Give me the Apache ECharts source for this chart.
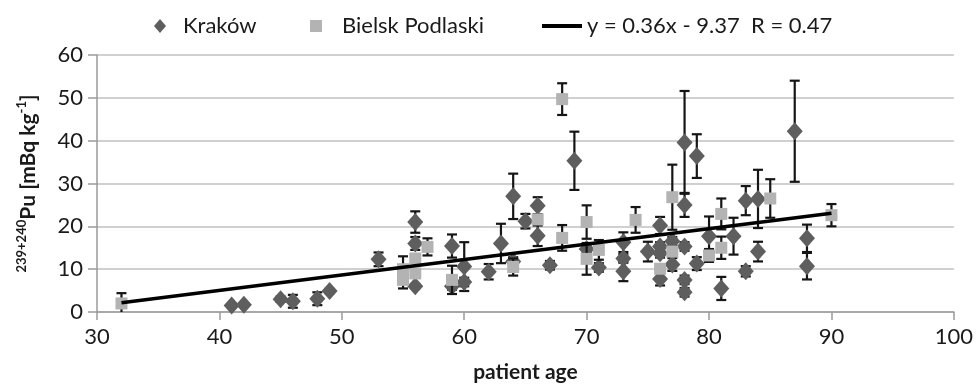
<!DOCTYPE html>
<html><head><meta charset="utf-8">
<script src="https://cdn.jsdelivr.net/npm/echarts@6/dist/echarts.min.js"></script>
<style>html,body{margin:0;padding:0;background:#fff}#c{width:976px;height:390px}</style>
</head><body><div id="c"></div>
<script>
// ---- data ----
const krakowAge = [41, 42, 45, 46, 48, 49, 53, 56, 56, 56, 59, 59, 60, 60, 62, 63, 64, 64, 65, 66, 66, 67, 69, 70, 71, 73, 73, 73, 75, 76, 76, 76, 76, 77, 77, 78, 78, 78, 78, 78, 79, 79, 80, 81, 82, 83, 83, 84, 84, 87, 88, 88];
const krakowVal = [1.5, 1.7, 3.0, 2.5, 3.1, 4.9, 12.3, 21.0, 16.0, 6.0, 15.4, 6.0, 10.6, 7.0, 9.4, 16.0, 27.0, 11.8, 21.2, 24.8, 17.8, 10.9, 35.3, 14.7, 10.4, 16.3, 12.5, 9.5, 14.1, 20.2, 15.3, 13.7, 7.7, 16.5, 11.1, 39.6, 25.0, 15.3, 7.5, 4.6, 36.4, 11.3, 17.7, 5.5, 17.7, 26.0, 9.5, 26.4, 14.1, 42.2, 17.2, 10.7];
const krakowErr = [0.3, 0.3, 0.6, 1.5, 1.5, 0.5, 1.6, 2.5, 1.5, 0.5, 2.7, 0.8, 5.7, 1.0, 1.8, 4.6, 5.3, 1.0, 1.7, 2.0, 2.4, 1.0, 6.8, 1.0, 1.0, 2.3, 1.0, 2.3, 2.3, 2.0, 1.0, 1.0, 1.5, 1.0, 1.5, 12.0, 2.8, 1.0, 1.0, 1.0, 5.1, 1.5, 4.6, 2.7, 4.3, 3.4, 1.2, 6.8, 2.3, 11.8, 3.2, 3.1];
const bielskAge = [32, 55, 55, 56, 56, 57, 59, 64, 66, 68, 68, 70, 70, 71, 74, 76, 77, 77, 80, 81, 81, 85, 90];
const bielskVal = [2.0, 10.0, 7.5, 12.5, 9.0, 15.2, 7.5, 10.5, 21.6, 49.7, 17.3, 21.0, 12.4, 14.5, 21.5, 10.1, 26.8, 14.1, 13.2, 22.9, 15.0, 26.5, 22.6];
const bielskErr = [2.4, 3.0, 2.0, 1.0, 1.0, 2.0, 3.3, 2.0, 1.0, 3.7, 3.0, 3.9, 3.7, 2.3, 3.0, 1.0, 7.6, 1.0, 1.5, 3.6, 2.6, 4.5, 2.6];
const trendX = [32, 90];
const trendSlope = 0.36;
const trendIntercept = -9.37;
const trendName = 'y = 0.36x - 9.37  R = 0.47';
const seriesNames = ['Kraków', 'Bielsk Podlaski'];
const xMin = 30, xMax = 100, xStep = 10;
const yMin = 0, yMax = 60, yStep = 10;

const FONT = 'Lato, "Open Sans", sans-serif';
const TXT = '#1a1a1a';

function errRender(params, api) {
  const x = api.value(0), y = api.value(1), e = api.value(2);
  const lo = Math.max(yMin, y - e);
  const top = api.coord([x, y + e]);
  const bot = api.coord([x, lo]);
  const cw = 5;
  const style = { stroke: '#151515', lineWidth: 2.2 };
  const children = [
    { type: 'line', shape: { x1: top[0], y1: top[1], x2: bot[0], y2: bot[1] }, style },
    { type: 'line', shape: { x1: top[0] - cw, y1: top[1], x2: top[0] + cw, y2: top[1] }, style }
  ];
  if (y - e >= yMin) children.push({ type: 'line', shape: { x1: bot[0] - cw, y1: bot[1], x2: bot[0] + cw, y2: bot[1] }, style });
  return { type: 'group', children };
}

const kData = krakowAge.map((a, i) => [a, krakowVal[i], krakowErr[i]]);
const bData = bielskAge.map((a, i) => [a, bielskVal[i], bielskErr[i]]);
const tData = trendX.map(x => [x, +(trendSlope * x + trendIntercept).toFixed(3)]);

const chart = echarts.init(document.getElementById('c'), null, { renderer: 'canvas' });
const legendText = { fontFamily: FONT, fontSize: 22, color: TXT };
chart.setOption({
  animation: false,
  backgroundColor: '#fff',
  textStyle: { fontFamily: FONT },
  grid: { left: 97, right: 21, top: 55, bottom: 78 },
  legend: [
    { data: [seriesNames[0]], left: 149, top: 10, icon: 'path://M6,0L12,7L6,14L0,7Z', itemWidth: 36, itemHeight: 14, symbolKeepAspect: true, textStyle: legendText, selectedMode: false },
    { data: [seriesNames[1]], left: 305, top: 10, icon: 'path://M0,0H10V10H0Z', itemWidth: 42, itemHeight: 12, symbolKeepAspect: true, textStyle: legendText, selectedMode: false },
    { data: [trendName], left: 537, top: 10, icon: 'rect', itemWidth: 40, itemHeight: 4, textStyle: legendText, selectedMode: false, itemStyle: { color: '#000' } }
  ],
  xAxis: {
    type: 'value', min: xMin, max: xMax, interval: xStep,
    name: 'patient age', nameLocation: 'middle', nameGap: 50,
    nameTextStyle: { fontFamily: FONT, fontSize: 21, fontWeight: 'bold', color: TXT },
    axisLine: { show: true, lineStyle: { color: '#9a9a9a', width: 1.5 } },
    axisTick: { show: true, length: 8, lineStyle: { color: '#9a9a9a', width: 1.5 } },
    axisLabel: { fontFamily: FONT, fontSize: 22, color: TXT, margin: 14 },
    splitLine: { show: false }
  },
  yAxis: {
    type: 'value', min: yMin, max: yMax, interval: yStep,
    name: '{s|239+240}{m|Pu [mBq kg}{s|-1}{m|]}', nameLocation: 'middle', nameGap: 56, nameRotate: 90,
    nameTextStyle: {
      color: TXT,
      rich: {
        m: { fontFamily: FONT, fontSize: 21, fontWeight: 'bold', color: TXT, lineHeight: 26 },
        s: { fontFamily: FONT, fontSize: 13, fontWeight: 'bold', color: TXT, lineHeight: 14, verticalAlign: 'top' }
      }
    },
    axisLine: { show: true, lineStyle: { color: '#9a9a9a', width: 1.5 } },
    axisTick: { show: true, length: 9, lineStyle: { color: '#9a9a9a', width: 1.5 } },
    axisLabel: { fontFamily: FONT, fontSize: 22, color: TXT, margin: 14 },
    splitLine: { show: true, lineStyle: { color: '#c0c0c0', width: 1.5 } }
  },
  series: [
    { name: 'kErr', type: 'custom', data: kData, renderItem: errRender, encode: { x: 0, y: 1 }, z: 2, silent: true },
    { name: seriesNames[0], type: 'scatter', data: kData, symbol: 'diamond', symbolSize: [16, 18], itemStyle: { color: '#5e5e5e', opacity: 1 }, z: 3 },
    { name: 'bErr', type: 'custom', data: bData, renderItem: errRender, encode: { x: 0, y: 1 }, z: 4, silent: true },
    { name: seriesNames[1], type: 'scatter', data: bData, symbol: 'rect', symbolSize: 12, itemStyle: { color: '#b3b3b3', opacity: 1 }, z: 5 },
    { name: trendName, type: 'line', data: tData, symbol: 'none', lineStyle: { color: '#000', width: 3.5 }, itemStyle: { color: '#000' }, z: 6 }
  ]
});
</script></body></html>
